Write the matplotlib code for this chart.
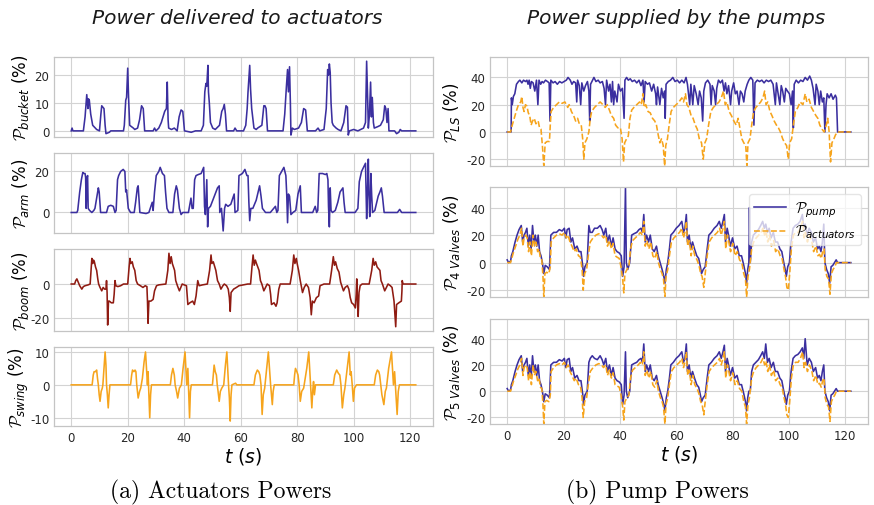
import matplotlib.pyplot as plt
import numpy as np

plt.rcParams['mathtext.fontset'] = 'custom'
plt.rcParams['mathtext.rm'] = 'DejaVu Sans'
plt.rcParams['mathtext.it'] = 'DejaVu Sans:italic'
plt.rcParams['mathtext.cal'] = 'cmsy10'
plt.rcParams['axes.unicode_minus'] = False

# ---- left column: actuator powers (t [s], value [%]) ----
bucket_t = [0, 0.3, 0.6, 4.3, 4.9, 5.5, 5.9, 6.1, 6.4, 6.9, 7.6, 9.0, 10.0, 10.5, 10.8, 11.6, 12.0, 12.3, 13.5, 14.0,
            18.5, 18.8, 19.3, 19.6, 20.0, 20.3, 20.7, 22.0, 22.5, 23.5, 24.2, 24.9, 25.5, 26.0, 29.0, 29.5, 30.0,
            31.0, 31.9, 33.1, 33.7, 34.0, 34.3, 34.5, 35.5, 36.5, 37.5, 38.2, 38.9, 39.5, 40.1, 42.5, 44, 46, 46.8,
            47.3, 47.7, 48.0, 48.4, 48.6, 48.9, 49.3, 50.1, 51, 52.5, 53.3, 53.8, 54.2, 54.6, 55.0, 57.5, 58.0, 58.6,
            61.0, 61.8, 62.3, 62.6, 63.2, 63.5, 63.9, 64.7, 65.5, 66, 67.5, 68.2, 68.6, 69.0, 69.5, 72, 75.0, 75.6,
            76.2, 76.6, 76.9, 77.3, 77.6, 77.8, 78.3, 79.0, 80.5, 81.5, 82.3, 83.0, 83.6, 86.5, 87.4, 88.0, 89.5,
            90.3, 90.8, 91.1, 91.4, 91.7, 92.0, 92.4, 92.8, 93.8, 94.5, 95.5, 96.5, 97.3, 97.8, 98.1, 98.5, 100,
            101.5, 102.5, 103.5, 104.2, 104.6, 105.0, 105.2, 105.6, 106.0, 106.3, 106.6, 107.0, 107.3, 108.5, 109.5,
            110.5, 111.0, 111.4, 111.8, 112.2, 112.5, 114.5, 115.2, 116.0, 116.5, 117.0, 122]
bucket = [0, 1, 0, 0, 5, 13, 8, 11.5, 11, 6, 2, 0.5, 0, 6, 9, 8, 2, -1, -0.5, 0,
          0, 2, 11, 12, 22.5, 12, 2, 1, 0.5, 1, 4, 9, 8, 0, 0, 1, 0,
          1, 3, 7, 8, 17.5, 4, 1, 0.5, 1, 0, 5, 7.5, 7, 0, -0.5, 0, 0, 2,
          14, 17, 16, 23.5, 14, 10, 3, 1, 0.5, 2, 7, 8, 9.5, 6, 0, 0, 1, 0,
          0, 2, 8, 14, 23.5, 15, 8, 1, 0.5, 1, 2, 9, 9, 8, 0, 0, 0, 6,
          16, 22, 14, 23, 10, -1.5, 1, 0.5, 1, 3, 8, 7.5, 0, 0, 1, 0, 0.5,
          8, 22, 20, 24, 21, 10, 3, 2, 1, 0.5, 0, 3, 9, 8.5, -1.5, 0, 0.5,
          0, 0.5, 1, 3, 25, 10, 1, 6, 17.5, 5, 12, 3, 1, 1.5, 2,
          4, 9, 8, 3, 8, 0, 0, -1, -0.5, 0.5, 0, 0]

arm_t = [0, 2.0, 2.3, 3.0, 3.6, 4.1, 4.5, 4.9, 5.1, 5.3, 5.6, 5.8, 6.0, 6.5, 7.3, 8.0, 8.4, 9.0, 9.6, 9.9, 10.4,
         12.5, 13.1, 14.0, 14.9, 15.5, 15.9, 16.4, 16.8, 17.5, 18.4, 19.0, 19.3, 19.6, 20.2, 21.0, 22.3, 22.8,
         23.4, 23.7, 24.3, 26.5, 27.5, 28.7, 29.0, 29.5, 30.1, 31.0, 31.5, 32.3, 33.0, 33.4, 33.9, 34.6, 36.0,
         36.6, 37.2, 37.6, 38.3, 38.9, 39.5, 41.5, 42.4, 42.8, 43.2, 43.7, 44.2, 45.0, 46.0, 46.9, 47.2, 47.5,
         47.8, 48.0, 48.3, 48.6, 49.3, 50.4, 51.2, 51.8, 52.4, 52.6, 53.2, 53.8, 54.3, 54.7, 55.5, 56.5, 57.2,
         57.7, 58.0, 59.0, 59.4, 60.6, 61.5, 62.2, 62.6, 62.9, 63.2, 63.6, 64.3, 65.5, 66.7, 67.2, 67.7, 68.8,
         70.5, 72.3, 72.8, 73.2, 73.7, 74.5, 75.3, 76.0, 76.3, 76.6, 76.9, 77.3, 77.8, 78.5, 79.5, 80.3, 81.1,
         81.5, 83, 85.5, 86.4, 86.9, 87.3, 87.8, 89.0, 90.0, 90.5, 90.9, 91.1, 91.4, 91.7, 92.0, 92.5, 93.5,
         94.4, 95.2, 96.2, 96.6, 97.0, 100.5, 101.0, 101.5, 102.0, 102.8, 103.5, 104.2, 104.4, 104.6, 104.9,
         105.2, 105.4, 105.7, 105.9, 106.1, 106.4, 106.7, 107.5, 108.7, 109.3, 109.8, 110.2, 110.8, 115.5,
         116.3, 117.0, 122]
arm = [0, 0, 1, 10, 16, 19.5, 19, 19, 17, 2, 17, 18, 2, 1, 0, 1, 2, 7, 12, 10, 0,
       0, 3, 3.5, 3, 0, 1, 16, 18, 20, 21, 20, 10, 11, 2, 0, 0, 5,
       12, 13, 0, -0.5, 0, 5, 1, 10, 18, 20, 22, 19, 18, 10, 2, 0, 0,
       9, 13, 11, 2, -1, 0, 0, 7, 2, 2, 16, 18, 18.5, 19, 22, 3, -1,
       10, 16, -7, 2, 3, 7, 10, 12, 13, 0, 2, -9, 2, 4, 3, 4, 7,
       9, 0, 1, 18, 19, 21, 18, 18, 5, -4, 2, 2, 6, 13, 8, 2, 0,
       0, 3, 0, 1, 18, 20, 22, 18, 9, -5, 9, 8, -1, 0, 1, 9, 13,
       0, 0, 0, 3, 0, 1, 19, 19, 18.5, 19, 16, 3, -7, 12, 1, 0, 1,
       5, 10, 12, 5, 0, 0, 1, 2, 15, 20, 22, 24, 10, -3, 10,
       26, 10, -2, 5, 19, 8, 0, 1, 8, 10, 12, 8, 0, 0,
       1.5, 0, 0]

boom_t = [0, 1.2, 1.6, 2.0, 2.5, 3.0, 3.75, 4.3, 4.9, 6.0, 6.7, 7.0, 7.3, 7.6, 7.9, 8.2, 8.6, 9.0, 9.4, 9.7, 10.2,
          10.8, 11.3, 11.8, 12.3, 12.5, 12.7, 12.9, 13.2, 13.5, 14.2, 14.9, 15.2, 15.5, 15.8, 16.5, 17.5, 18.5,
          20.0, 20.5, 20.8, 21.1, 21.6, 22.0, 22.5, 23.0, 23.5, 24.5, 25.4, 26.2, 26.8, 27.0, 27.2, 27.5, 28.2,
          29.0, 29.5, 30.2, 31.0, 33.5, 34.2, 34.6, 35.0, 35.4, 35.8, 36.6, 37.0, 37.6, 38.3, 38.8, 39.3, 40.0,
          40.8, 41.3, 42.0, 43.0, 43.6, 44.2, 44.8, 45.3, 46.5, 48.2, 49.0, 49.5, 49.8, 50.3, 51.2, 51.8, 52.4,
          53.0, 53.7, 54.2, 55.0, 55.6, 56.0, 56.3, 56.6, 57.5, 58.5, 59.4, 61, 62.5, 63.5, 64.0, 64.4, 64.8,
          65.2, 65.6, 66.5, 67.0, 67.5, 68.2, 68.8, 69.4, 70.2, 70.6, 70.9, 71.8, 72.5, 72.9, 73.5, 74.0, 77.5,
          78.3, 78.8, 79.2, 79.7, 80.0, 80.5, 81.1, 81.9, 82.5, 83.2, 84.0, 84.6, 85.0, 85.4, 86.0, 86.8, 87.6,
          88.1, 89.5, 91.5, 92.2, 92.8, 93.2, 93.6, 94.2, 94.8, 95.4, 96.4, 97.0, 97.8, 98.3, 98.8, 99.3, 100.0,
          100.6, 100.9, 101.1, 101.4, 101.6, 101.9, 102.3, 103.0, 105.5, 106.4, 106.9, 107.3, 107.8, 108.3,
          109.3, 109.7, 110.2, 111.0, 111.6, 112.2, 113.0, 113.6, 114.3, 114.9, 115.2, 116.0, 116.9, 117.1,
          117.2, 117.5, 122]
boom = [0, 0, 2, 3, 1, -1, -3, -1.5, -1, -0.5, 0, 8, 15, 12, 14, 13, 10, 8, 3, 0, -2,
        -4, -2, -3, -3, 2, -5, -24, -10, -10, -11, -11, -6, 2, -1, -1.5, -1, 0,
        0, 10, 15, 12, 13, 10, 8, 2, 0, -1, -2, -1, -1.5, -10, -23, -10, -10,
        -9, -4, -1, -0.5, 0, 8, 18, 12, 16, 12, 8, 2, -1, -4, -2, 0, -0.5,
        -1, -12, -11, -10, -12, -7, 2, -1, -0.5, 0, 8, 17, 12, 13, 8, 2, 0,
        -3, -1, 0, -1, -3, -8, -16, -5, -3, -2, -1, -0.5, 0, 0, 10, 17, 11,
        14, 12, 8, 2, 0, -4, -2, 0, -1, -6, -12, -11, -13, -11, -3, 0, 0,
        8, 17, 12, 15, 12, 8, 2, -5, -2, 0, -2, -8, -18, -10, -11, -8, -7,
        -1, 0, 0, 8, 16, 11, 13, 9, 7, 1, -4, -2, -1, -3, -8, -11, -12,
        -14, -6, 3, -12, -19, -5, -1, 0, 0, 8, 15, 11, 13, 10,
        8, 2, 0, -4, -2, 0, -1, -2, -10, -25, -12, -11, -10, -4,
        2, 0, 0]

swing_t = [0, 7.4, 7.8, 8.1, 8.6, 9.0, 9.3, 9.6, 9.9, 10.2, 10.6, 11.0, 11.2, 11.6, 12.0, 12.3, 12.5, 12.8, 13.1,
           13.4, 13.7, 21.0, 21.4, 21.7, 22.2, 22.6, 22.9, 23.2, 23.7, 24.2, 24.6, 25.2, 25.8, 26.3, 26.7, 27.0,
           27.2, 27.5, 27.8, 28.1, 28.4, 35.1, 35.5, 36.0, 36.5, 36.8, 37.3, 37.7, 38.3, 39.0, 39.6, 40.3, 40.6,
           40.9, 41.3, 41.6, 41.9, 42.2, 42.5, 50.0, 50.3, 50.6, 51.0, 51.4, 51.7, 52.0, 52.4, 52.8, 53.3, 54.0,
           54.6, 55.1, 55.4, 55.7, 56.0, 56.3, 56.6, 56.9, 58.2, 58.6, 64.7, 65.2, 65.9, 66.4, 66.8, 67.2, 67.6,
           68.0, 68.5, 69.2, 69.8, 70.2, 70.6, 70.9, 71.2, 71.5, 71.9, 78.8, 79.1, 79.4, 79.9, 80.3, 80.7, 81.1,
           81.6, 82.3, 83.4, 84.1, 84.5, 84.8, 85.2, 85.5, 85.8, 86.1, 86.5, 92.8, 93.3, 94.0, 94.6, 95.1, 95.5,
           96.0, 96.5, 96.9, 97.7, 98.4, 98.8, 99.1, 99.5, 99.9, 100.3, 101.0, 107.3, 107.8, 108.4, 108.9, 109.2,
           109.6, 110.0, 110.7, 111.2, 111.6, 112.4, 113.4, 113.8, 114.1, 114.5, 115.0, 115.4, 115.8, 116.2, 122]
swing = [0, 0, 3, 4, 4, 4.5, 2, 0, -3, -5, -2, -1, 0, 5, 10, 6, 0, -3, -7,
         -3, 0, 0, 3, 4.5, 4, 4.5, 4, 0, -4, -2, -1, 2, 7, 10, 4, 0,
         4, -3, -10, -3, 0, 0, 3, 5, 3, 0, -2, -4, -1, 0, 5, 10, 5,
         0, 5, -3, -10, -2, 0, 0, 3, 6, 4, 3, 0, -2, -5, -2, -1, 0,
         6, 10, 5, 0, -4, -11, -3, 0, 0.5, 0, 0, 3, 4.5, 4, 3, 0, -9,
         -3, -1, 5, 10, 5, 0, -3, -6, -2, 0, 0, 3, 5, 4, 3, 0, -5,
         -2, -1, 5, 10, 4, 0, -7, -2, 1, -3, 0, 0, 3, 4.5, 3.5, 3, 0,
         -7, -3, -1, 5, 10, 3, 4, 0, -5, -1, 0, 0, 3, 4.5, 4, 3,
         0, -3, -6, -2, -1, 5, 10, 4, 0, 4, -3, -9, -2, 0, 0]

# ---- right column: pump powers ----
ls_pump_t = [0, 1.4, 1.5, 1.8, 2.2, 2.7, 3.3, 4.0, 4.5, 5.2, 5.8, 6.5, 7.0, 7.4, 7.8, 8.2, 8.6, 9.2, 9.8, 10.4, 10.9,
             11.3, 11.9, 12.4, 12.9, 13.6, 14.3, 14.9, 15.2, 15.5, 16.3, 17.0, 17.8, 18.6, 19.4, 20.2, 21.0, 21.6,
             22.4, 23.0, 23.6, 24.3, 24.7, 25.0, 25.6, 26.1, 26.5, 27.2, 27.8, 28.5, 29.0, 29.3, 29.6, 30.3, 30.8,
             31.5, 32.3, 33.0, 33.8, 34.4, 34.9, 35.3, 36.0, 36.5, 37.0, 37.4, 37.8, 38.2, 39.0, 39.5, 40.2, 40.9,
             41.5, 41.8, 42.4, 43.0, 43.7, 44.4, 45.2, 46.0, 46.8, 47.5, 48.2, 48.6, 49.0, 49.8, 50.5, 51.3, 52.0,
             52.7, 53.0, 53.4, 54.2, 54.8, 55.4, 55.9, 56.1, 56.4, 57.2, 58.0, 58.8, 59.6, 60.4, 61.2, 62.0, 62.8,
             63.5, 64.0, 64.8, 65.2, 65.9, 66.4, 67.1, 67.8, 68.3, 68.9, 69.4, 69.8, 70.4, 71.2, 72.0, 72.4, 72.8,
             73.5, 74.0, 74.4, 75.0, 75.7, 76.4, 77.0, 77.5, 78.0, 78.6, 79.3, 79.7, 80.4, 81.0, 81.6, 82.3, 82.8,
             83.4, 84.0, 84.5, 85.2, 85.8, 86.5, 87.2, 87.6, 88.0, 88.8, 89.6, 90.4, 91.2, 92.0, 92.8, 93.6, 94.4,
             95.2, 95.6, 96.2, 96.8, 97.3, 97.8, 98.4, 98.9, 99.5, 100.2, 100.8, 101.3, 101.6, 101.9, 102.6, 103.4,
             104.2, 105.0, 105.8, 106.6, 107.4, 108.0, 108.6, 109.3, 109.7, 110.3, 110.8, 111.3, 111.9, 112.4,
             112.8, 113.2, 113.6, 114.3, 115.0, 115.7, 116.5, 116.9, 117.3, 122]
ls_pump = [0, 0, 25, 20, 26, 28, 35, 37, 38, 36, 38, 37, 38, 35, 38, 32, 37, 36, 30, 38, 20,
           38, 35, 37, 36, 38, 37, 36, 8, 38, 36, 37, 35, 37, 36, 37, 38, 40,
           38, 35, 37, 36, 22, 38, 34, 20, 36, 30, 34, 37, 30, 8, 35, 38, 40,
           37, 38, 36, 37, 32, 20, 38, 30, 35, 22, 37, 20, 30, 22, 35, 30, 32,
           10, 38, 40, 38, 39, 37, 38, 36, 38, 34, 38, 22, 37, 35, 36, 30, 35,
           28, 20, 33, 20, 32, 25, 30, 10, 35, 37, 38, 40, 37, 38, 36, 38, 36,
           40, 35, 20, 35, 20, 34, 28, 20, 30, 25, 8, 30, 36, 38, 35, 20, 34,
           30, 20, 32, 38, 36, 38, 30, 36, 28, 34, 20, 30, 36, 28, 30, 20, 30,
           28, 22, 30, 35, 38, 40, 38, 5, 36, 38, 37, 38, 36, 38, 37, 38, 35,
           20, 36, 28, 20, 34, 30, 22, 32, 30, 28, 20, 30, 3, 35, 38, 36,
           38, 37, 40, 38, 41, 38, 32, 20, 35, 30, 20, 30, 22, 25,
           0, 20, 28, 25, 28, 24, 27, 25, 0, 0]

ls_act_t = [0, 1.2, 1.8, 2.5, 3.2, 4.0, 4.8, 5.2, 5.6, 6.0, 6.5, 7.0, 7.5, 8.0, 8.5, 9.0, 9.6, 10.2, 11.0, 11.5, 12.0,
            12.5, 13.0, 13.5, 14.2, 15.0, 15.3, 15.6, 16.5, 17.5, 18.5, 19.5, 20.5, 21.5, 22.0, 22.8, 23.6, 24.3,
            25.0, 25.6, 26.3, 26.8, 27.2, 27.6, 28.3, 29.0, 29.5, 30.0, 31.0, 32.0, 33.0, 34.0, 34.8, 35.5, 36.3,
            37.0, 37.8, 38.5, 39.3, 40.2, 40.8, 41.3, 41.7, 42.4, 43.0, 43.6, 44.2, 45.0, 46.0, 47.0, 47.6, 48.2,
            48.6, 49.2, 50.0, 50.8, 51.6, 52.4, 53.0, 53.6, 54.2, 54.8, 55.4, 55.9, 56.3, 56.9, 57.5, 58.2, 59.0,
            60.0, 61.0, 62.0, 62.6, 63.3, 63.8, 64.5, 65.3, 66.0, 66.8, 67.5, 68.2, 69.0, 69.6, 70.2, 70.8, 71.5,
            72.3, 73.2, 74.2, 75.2, 76.0, 76.8, 77.4, 78.0, 78.8, 79.6, 80.5, 81.3, 82.0, 82.6, 83.3, 84.0, 84.7,
            85.1, 85.5, 86.2, 86.8, 87.5, 88.3, 89.2, 90.0, 90.8, 91.4, 91.9, 92.5, 93.3, 94.0, 94.8, 95.6, 96.3,
            97.0, 97.8, 98.5, 99.2, 99.8, 100.3, 101.0, 101.6, 102.3, 103.2, 104.0, 105.0, 105.8, 106.4, 107.2,
            108.0, 108.8, 109.6, 110.3, 111.0, 111.8, 112.5, 113.3, 113.8, 114.3, 114.8, 115.3, 116.0, 116.6,
            117.3, 122]
ls_act = [0, 0, 5, 10, 15, 20, 22, 26, 18, 15, 20, 19, 14, 12, 5, 8, 10, 6, 8, 3, 2,
          -10, -25, -8, -7, -7, 5, 15, 18, 20, 22, 21, 22, 18, 20, 15, 12, 8,
          10, 6, 5, -5, -20, -8, -5, 0, 10, 15, 18, 20, 22, 20, 18, 20, 16,
          12, 10, 5, 3, 3, -5, -22, -8, -5, -3, 10, 16, 18, 20, 22, 20, 28,
          18, 20, 15, 14, 10, 8, 5, -2, -8, -5, -10, -25, -10, -5, 5, 15, 18,
          20, 22, 25, 22, 28, 20, 18, 12, 10, 5, 2, -5, -8, -20, -8, -5, 5,
          15, 18, 20, 22, 25, 30, 20, 22, 15, 12, 8, 5, 10, 3, -5, -8, -10,
          -25, -8, -5, 5, 15, 18, 20, 22, 25, 30, 20, 22, 15, 12, 8, 5, 3,
          0, -5, -8, -10, -20, -8, -5, 5, 15, 18, 22, 20, 28, 22, 24,
          18, 15, 12, 10, 5, 2, 0, 5, 10, 0, -22, -8, -5, -2,
          0, 0]

v4_pump_t = [0, 0.5, 1.2, 1.5, 2.0, 2.8, 3.5, 4.2, 5.0, 5.5, 6.0, 6.5, 7.0, 7.5, 8.0, 8.5, 9.0, 9.5, 10.0, 10.5, 11.0,
             11.5, 12.0, 12.5, 13.0, 13.5, 14.2, 15.0, 15.5, 16.5, 17.5, 18.5, 19.5, 20.3, 20.8, 21.3, 22.0, 22.6,
             23.2, 24.0, 24.8, 25.5, 26.2, 26.8, 27.1, 27.6, 28.4, 29.0, 29.5, 30.2, 31.0, 32.0, 33.0, 33.7, 34.3,
             35.0, 35.6, 36.3, 37.0, 37.6, 38.3, 39.0, 39.8, 40.5, 41.0, 41.5, 42.0, 42.3, 42.8, 43.5, 44.2, 45.0,
             46.0, 46.8, 47.5, 48.0, 48.5, 49.0, 49.5, 50.2, 50.8, 51.5, 52.2, 53.0, 53.6, 54.3, 55.0, 55.6, 56.0,
             56.5, 57.0, 57.6, 58.1, 59.0, 60.0, 61.0, 62.0, 62.6, 63.1, 63.6, 64.0, 64.6, 65.2, 65.8, 66.5, 67.3,
             68.0, 68.6, 69.0, 69.6, 70.3, 71.0, 71.6, 72.5, 73.5, 74.5, 75.3, 76.0, 76.6, 77.1, 77.5, 78.1, 78.6,
             79.2, 80.0, 80.8, 81.6, 82.4, 83.2, 84.0, 84.6, 85.0, 85.4, 85.8, 86.0, 86.3, 86.8, 87.4, 88.3, 89.2,
             90.0, 90.7, 91.3, 91.8, 92.4, 93.0, 93.7, 94.5, 95.2, 96.0, 96.8, 97.5, 98.2, 98.7, 99.1, 99.6, 100.2,
             100.8, 101.5, 102.3, 103.2, 104.0, 104.8, 105.3, 105.8, 106.5, 107.2, 108.0, 108.7, 109.5, 110.2,
             110.8, 111.4, 111.9, 112.4, 112.8, 113.4, 114.0, 114.5, 115.0, 115.6, 116.2, 116.8, 117.3, 122]
v4_pump = [2, 0, 1, 5, 8, 15, 20, 24, 27, 15, 20, 22, 25, 12, 20, 10, 27, 15, 20, 12, 20,
           8, 5, 0, -8, -2, -3, -5, 20, 22, 22, 24, 23, 25, 18, 24, 25, 15,
           18, 10, 12, 8, 8, -2, -10, -3, 0, 27, 22, 22, 25, 25, 27, 24, 20,
           25, 15, 20, 12, 18, 10, 8, 7, 5, -10, -3, 55, 0, -5, 0, 20, 21,
           22, 24, 25, 22, 35, 15, 20, 15, 20, 10, 8, 12, 5, 0, -5, -10, -15,
           -5, 0, 10, 20, 22, 25, 27, 30, 22, 25, 35, 15, 20, 10, 15, 10, 5,
           3, -3, -8, -5, -3, 10, 20, 22, 25, 27, 30, 25, 30, 35, 15, 25, 20,
           12, 18, 10, 12, 5, 5, -2, -8, -15, -5, 0, 40, 0, 15, 20, 22, 24,
           27, 30, 25, 28, 22, 25, 18, 22, 15, 15, 10, 8, 0, -5, -10, -3, 0,
           15, 25, 27, 28, 30, 35, 25, 28, 20, 25, 22, 15, 18, 10,
           12, 8, 15, 28, 0, -5, -8, -15, -3, -2, 0, 2, 0, 0]

v5_pump_t = [0, 0.5, 1.2, 1.5, 2.0, 2.8, 3.5, 4.2, 5.0, 5.5, 6.0, 6.5, 7.0, 7.5, 8.0, 8.5, 9.0, 9.5, 10.0, 10.5, 11.0,
             11.5, 12.0, 12.5, 13.0, 13.5, 14.2, 15.0, 15.5, 16.5, 17.5, 18.5, 19.5, 20.3, 20.8, 21.3, 22.0, 22.6,
             23.2, 24.0, 24.8, 25.5, 26.2, 26.8, 27.1, 27.6, 28.4, 29.0, 29.5, 30.2, 31.0, 32.0, 33.0, 33.7, 34.3,
             35.0, 35.6, 36.3, 37.0, 37.6, 38.3, 39.0, 39.8, 40.5, 41.0, 41.5, 42.0, 42.3, 42.8, 43.5, 44.2, 45.0,
             46.0, 46.8, 47.5, 48.0, 48.5, 49.0, 49.5, 50.2, 50.8, 51.5, 52.2, 53.0, 53.6, 54.3, 55.0, 55.6, 56.0,
             56.5, 57.0, 57.6, 58.1, 59.0, 60.0, 61.0, 62.0, 62.6, 63.1, 63.6, 64.0, 64.6, 65.2, 65.8, 66.5, 67.3,
             68.0, 68.6, 69.0, 69.6, 70.3, 71.0, 71.6, 72.5, 73.5, 74.5, 75.3, 76.0, 76.6, 77.1, 77.5, 78.1, 78.6,
             79.2, 80.0, 80.8, 81.6, 82.4, 83.2, 84.0, 84.6, 85.0, 85.4, 85.8, 86.3, 86.8, 87.4, 88.3, 89.2,
             90.0, 90.7, 91.3, 91.8, 92.4, 93.0, 93.7, 94.5, 95.2, 96.0, 96.8, 97.5, 98.2, 98.7, 99.1, 99.6, 100.2,
             100.8, 101.5, 102.3, 103.2, 104.0, 104.8, 105.3, 105.8, 106.5, 107.2, 108.0, 108.7, 109.5, 110.2,
             110.8, 111.4, 111.9, 112.4, 112.8, 113.4, 114.0, 114.5, 115.0, 115.6, 116.2, 116.8, 117.3, 122]
v5_pump = [2, 0, 1, 5, 8, 15, 20, 24, 27, 15, 20, 22, 25, 12, 20, 10, 27, 15, 20, 12, 20,
           8, 5, 0, -8, -2, -3, -5, 20, 22, 22, 24, 23, 25, 18, 24, 25, 15,
           18, 10, 12, 8, 8, -2, -10, -3, 0, 22, 25, 27, 25, 24, 27, 24, 20,
           25, 15, 20, 12, 18, 10, 8, 7, 5, -10, -3, 30, 0, -5, 0, 20, 21,
           22, 24, 25, 22, 36, 15, 20, 15, 20, 10, 8, 12, 5, 0, -5, -10, -15,
           -5, 0, 10, 20, 22, 25, 27, 30, 22, 25, 36, 15, 20, 10, 15, 10, 5,
           3, -3, -8, -5, -3, 10, 20, 22, 25, 27, 30, 25, 30, 35, 15, 25, 20,
           12, 18, 10, 12, 5, 5, -2, -8, -15, -5, 0, 0, 15, 20, 22, 24,
           27, 30, 25, 36, 22, 25, 18, 22, 15, 15, 10, 8, 0, -5, -10, -3, 0,
           15, 25, 27, 28, 30, 33, 25, 40, 20, 25, 22, 15, 18, 10,
           12, 8, 15, 20, 0, -5, -8, -15, -3, -2, 0, 2, 0, 0]

valves_act_t = [0, 1.2, 1.6, 2.3, 3.0, 3.8, 4.5, 5.1, 5.6, 6.0, 6.6, 7.1, 7.6, 8.1, 8.6, 9.2, 9.7, 10.2, 10.8, 11.3,
                11.8, 12.3, 12.7, 13.0, 13.4, 14.0, 14.8, 15.3, 15.6, 16.5, 17.5, 18.5, 19.5, 20.3, 21.0, 21.6, 22.3,
                23.0, 23.8, 24.5, 25.3, 26.0, 26.6, 27.0, 27.5, 28.2, 28.8, 29.5, 30.5, 31.5, 32.5, 33.5, 34.2, 35.0,
                35.6, 36.3, 37.0, 37.6, 38.3, 39.0, 39.8, 40.4, 41.0, 41.4, 41.8, 42.5, 43.2, 43.8, 44.5, 45.5, 46.5,
                47.3, 48.0, 48.5, 49.0, 49.6, 50.3, 51.0, 51.7, 52.4, 53.1, 53.7, 54.4, 55.0, 55.5, 56.0, 56.4, 57.0,
                57.6, 58.3, 59.2, 60.2, 61.2, 62.0, 62.6, 63.1, 63.6, 64.1, 64.7, 65.3, 65.9, 66.6, 67.4, 68.1, 68.7,
                69.2, 69.8, 70.3, 71.0, 71.7, 72.6, 73.6, 74.6, 75.4, 76.0, 76.6, 77.1, 77.6, 78.2, 78.7, 79.3, 80.1,
                80.9, 81.7, 82.5, 83.3, 84.0, 84.6, 85.0, 85.5, 86.0, 86.8, 87.5, 88.4, 89.3, 90.1, 90.8, 91.4, 91.9,
                92.5, 93.1, 93.8, 94.6, 95.3, 96.1, 96.9, 97.6, 98.3, 98.8, 99.3, 99.8, 100.3, 100.9, 101.6, 102.4,
                103.3, 104.1, 104.9, 105.4, 105.9, 106.6, 107.3, 108.1, 108.8, 109.6, 110.3, 110.9, 111.5, 112.0,
                112.5, 112.9, 113.5, 114.1, 114.6, 115.1, 115.7, 116.3, 116.9, 122]
valves_act = [0, 0, 3, 8, 12, 17, 20, 25, 12, 18, 20, 18, 8, 15, 5, 20, 12, 15, 8, 10,
              3, 2, -10, -25, -8, -7, -8, -3, 15, 18, 20, 21, 20, 22, 18, 20, 15,
              12, 8, 10, 5, 4, -5, -20, -8, -5, 5, 15, 18, 20, 21, 20, 18, 20,
              12, 16, 10, 14, 5, 4, 3, -3, -12, -22, -8, -5, -3, 10, 16, 18, 20,
              22, 20, 30, 12, 16, 10, 15, 5, 3, 8, 0, -5, -8, -12, -25, -10, -5,
              5, 15, 18, 20, 22, 25, 18, 22, 30, 12, 16, 5, 12, 5, 2, -2, -8,
              -10, -18, -8, 5, 15, 18, 20, 22, 25, 20, 25, 30, 10, 20, 15, 8, 14,
              5, 8, 2, 0, -8, -12, -25, -10, -5, 10, 15, 18, 20, 22, 25, 20, 23,
              15, 20, 12, 16, 8, 10, 5, 3, -5, -10, -18, -20, -8, 10, 20, 22,
              22, 25, 30, 18, 22, 15, 20, 16, 8, 12, 5, 6, 3, 8,
              10, -5, -10, -12, -23, -8, -5, -3, 0, 0]

blue = '#3b2f9f'
orange = '#f6a41c'
red = '#8f1b12'
grid_c = '#d3d3d3'
spine_c = '#c4c4c4'

fig = plt.figure(figsize=(8.74, 5.06), dpi=100)
W, H = 874.0, 506.0


def make_ax(x0, x1, y0, y1):
    ax = fig.add_axes([x0 / W, 1 - y1 / H, (x1 - x0) / W, (y1 - y0) / H])
    ax.grid(True, color=grid_c, lw=0.8)
    ax.set_axisbelow(True)
    for s in ax.spines.values():
        s.set_color(spine_c)
        s.set_linewidth(0.9)
    ax.tick_params(length=0, labelsize=8.5, colors='#262626', pad=3.5)
    ax.set_xlim(-6.1, 128.1)
    ax.set_xticks([0, 20, 40, 60, 80, 100, 120])
    return ax


left_rows = [(58, 138), (154, 234), (250, 332), (348, 427)]
right_rows = [(58, 167), (188, 298), (320, 425)]

left_series = [(bucket_t, bucket, blue, r'$\mathcal{P}_{bucket}$ (%)', (-2.2, 26.5), [0, 10, 20]),
               (arm_t, arm, blue, r'$\mathcal{P}_{arm}$ (%)', (-10, 29), [0, 20]),
               (boom_t, boom, red, r'$\mathcal{P}_{boom}$ (%)', (-27.5, 20.5), [-20, 0]),
               (swing_t, swing, orange, r'$\mathcal{P}_{swing}$ (%)', (-12.5, 11.5), [-10, 0, 10])]

for (y0, y1), (tt, vv, c, lab, yl, yt) in zip(left_rows, left_series):
    ax = make_ax(54, 433, y0, y1)
    ax.plot(tt, vv, color=c, lw=1.15)
    ax.set_ylim(*yl)
    ax.set_yticks(yt)
    ax.set_ylabel(lab, fontsize=12)
    ax.yaxis.set_label_coords(-0.062, 0.5)
    if y0 < 340:
        ax.tick_params(labelbottom=False)
    else:
        ax.set_xlabel(r'$t\ (s)$', fontsize=13.5, labelpad=0.5)

right_series = [(ls_pump_t, ls_pump, ls_act_t, ls_act, r'$\mathcal{P}_{LS}$ (%)'),
                (v4_pump_t, v4_pump, valves_act_t, valves_act, r'$\mathcal{P}_{4\ Valves}$ (%)'),
                (v5_pump_t, v5_pump, valves_act_t, valves_act, r'$\mathcal{P}_{5\ Valves}$ (%)')]

for i, ((y0, y1), (pt, pv, at, av, lab)) in enumerate(zip(right_rows, right_series)):
    ax = make_ax(490, 868, y0, y1)
    ax.plot(pt, pv, color=blue, lw=1.15, label=r'$\mathcal{P}_{pump}$')
    ax.plot(at, av, color=orange, lw=1.15, ls='--', label=r'$\mathcal{P}_{actuators}$')
    ax.set_ylim(-25, 55)
    ax.set_yticks([-20, 0, 20, 40])
    ax.set_ylabel(lab, fontsize=12)
    ax.yaxis.set_label_coords(-0.075, 0.5)
    if i < 2:
        ax.tick_params(labelbottom=False)
    else:
        ax.set_xlabel(r'$t\ (s)$', fontsize=13.5, labelpad=0.5)
    if i == 1:
        ax.legend(loc='upper right', fontsize=10.5, framealpha=0.75, edgecolor='#dddddd',
                  handlelength=2.2, borderpad=0.35, labelspacing=0.25, handletextpad=0.6)

fig.text(0.272, 0.964, 'Power delivered to actuators', fontsize=14.5, style='italic',
         ha='center', va='center', color='#1a1a1a')
fig.text(0.774, 0.964, 'Power supplied by the pumps', fontsize=14.5, style='italic',
         ha='center', va='center', color='#1a1a1a')
fig.text(0.252, 0.027, '(a) Actuators Powers', fontsize=17, family='cmr10', ha='center', va='center')
fig.text(0.752, 0.027, '(b) Pump Powers', fontsize=17, family='cmr10', ha='center', va='center')

fig.savefig('out.png', dpi=100)
